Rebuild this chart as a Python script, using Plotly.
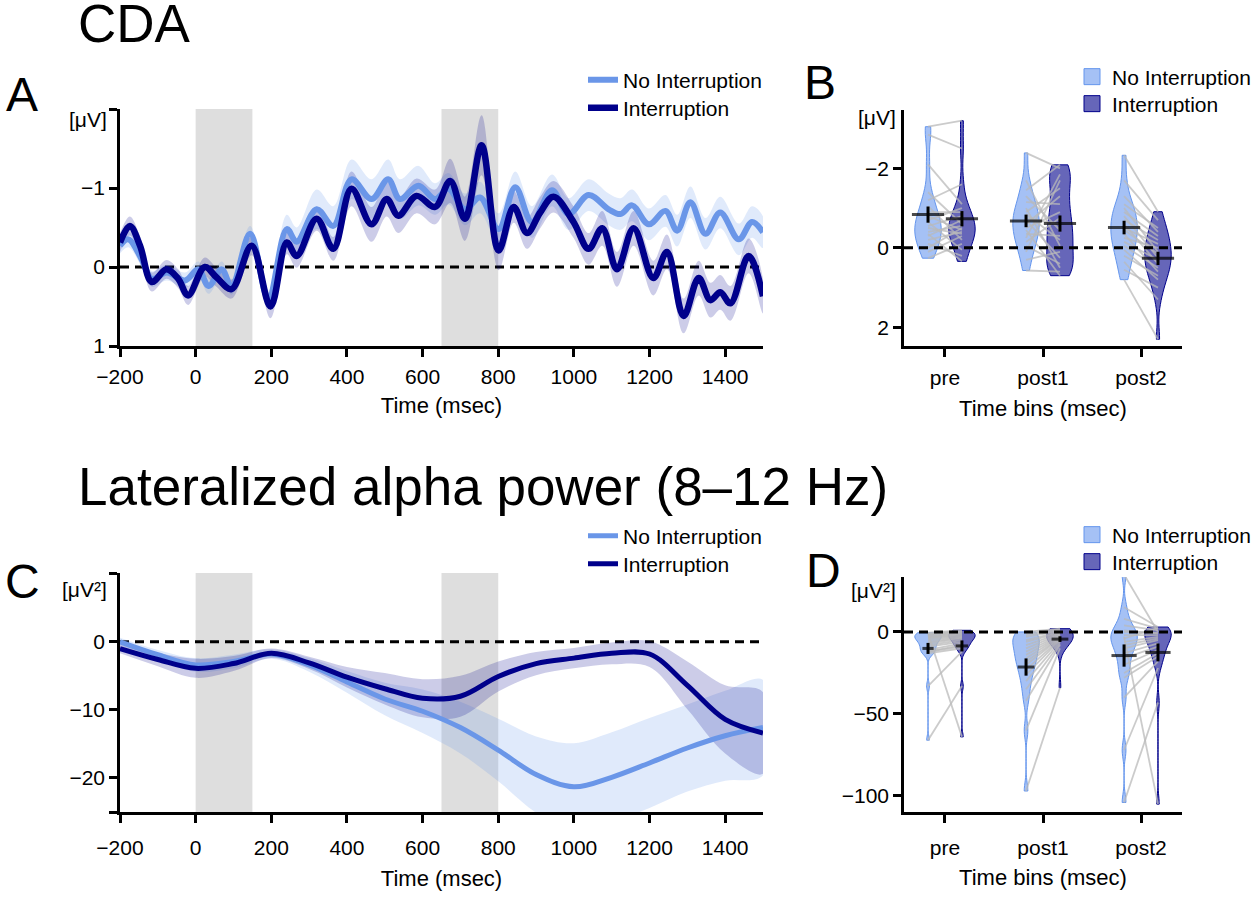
import numpy as np
import plotly.graph_objects as go

# ---------------- Panel A: CDA time course ----------------
cda_t_int = [-200, -174, -147, -116, -77, -46, -20, 24, 55, 95, 148, 198, 241, 267, 320, 364, 412, 465, 505, 536,
             584, 633, 673, 712, 756, 801, 841, 876, 911, 946, 999, 1039, 1075, 1114, 1158, 1210, 1246, 1290, 1330,
             1361, 1387, 1414, 1462, 1500]
cda_int = [-0.31, -0.52, -0.27, 0.19, 0.03, 0.15, 0.36, 0.0, 0.13, 0.28, -0.27, 0.50, -0.31, -0.14, -0.61, -0.23,
           -0.99, -0.54, -0.86, -0.65, -0.90, -0.76, -1.09, -0.61, -1.54, -0.21, -0.76, -0.43, -0.69, -0.89, -0.57,
           -0.23, -0.49, 0.03, -0.49, 0.14, -0.19, 0.62, 0.14, 0.42, 0.32, 0.46, -0.14, 0.37]
cda_int_se = [0.12] * 11 + [0.15] * 5 + [0.22] * 6 + [0.28] * 2 + [0.38] + [0.25] + [0.2] * 6 + [0.22] * 12

cda_t_ni = [-200, -178, -143, -116, -76, -28, 7, 34, 69, 95, 144, 192, 241, 267, 320, 364, 412, 465, 509, 540, 589,
            633, 668, 712, 752, 801, 845, 889, 942, 986, 1039, 1092, 1123, 1154, 1198, 1242, 1273, 1308, 1348, 1387,
            1436, 1471, 1500]
cda_ni = [-0.27, -0.35, -0.10, 0.15, 0.07, 0.17, 0.03, 0.24, 0.03, 0.25, -0.42, 0.40, -0.48, -0.32, -0.73, -0.52,
          -1.11, -0.86, -1.11, -0.86, -1.03, -0.86, -0.99, -0.73, -0.88, -0.48, -1.01, -0.57, -0.97, -0.67, -0.91,
          -0.73, -0.67, -0.78, -0.54, -0.71, -0.46, -0.82, -0.42, -0.69, -0.35, -0.57, -0.44]
cda_ni_se = [0.1] * 12 + [0.18] * 2 + [0.25] * 7 + [0.2] * 22

# ---------------- Panel C: alpha power time course ----------------
alpha_t = [-200, -100, 0, 100, 200, 300, 400, 500, 600, 700, 800, 900, 1000, 1100, 1200, 1300, 1400, 1500]
alpha_int = [-1.0, -2.6, -3.9, -3.2, -1.7, -3.1, -5.2, -6.9, -8.3, -8.0, -5.1, -3.2, -2.4, -1.7, -1.8, -6.4, -11.4, -13.4]
alpha_int_se = [0.7, 1.0, 1.4, 1.1, 0.7, 0.9, 1.5, 2.3, 2.8, 3.0, 2.2, 1.7, 1.5, 1.6, 1.9, 3.5, 5.0, 6.0]
alpha_ni = [0.0, -1.9, -3.4, -2.9, -1.8, -3.4, -5.9, -8.4, -10.2, -12.6, -15.9, -19.5, -21.3, -19.9, -17.8, -15.6, -13.8, -12.6]
alpha_ni_se = [0.6, 0.7, 1.0, 1.0, 0.7, 1.0, 1.6, 2.4, 3.2, 3.8, 4.6, 5.6, 6.4, 6.6, 6.6, 6.4, 6.6, 7.0]

shade_windows = [(0, 150), (650, 800)]

# ---------------- Panel B: CDA per subject, per time bin ----------------
bins = ["pre", "post1", "post2"]
cda_bin_ni = [
    [-3.05, -2.85, -2.1, -1.4, -1.2, -1.05, -0.9, -0.8, -0.7, -0.65, -0.55, -0.5, -0.4, -0.35, -0.3, -0.2, -0.1, 0.0, 0.1, 0.26],
    [-2.39, -1.7, -1.45, -1.3, -1.15, -1.0, -0.9, -0.85, -0.75, -0.7, -0.6, -0.5, -0.45, -0.35, -0.25, -0.15, -0.05, 0.1, 0.3, 0.57],
    [-2.33, -1.7, -1.3, -1.1, -1.0, -0.9, -0.8, -0.7, -0.6, -0.5, -0.45, -0.35, -0.25, -0.15, -0.05, 0.05, 0.2, 0.35, 0.55, 0.8],
]
cda_bin_int = [
    [-3.2, -2.5, -1.1, -0.6, -1.6, -0.2, -0.9, -0.45, -1.0, 0.05, -0.8, -0.35, -0.55, 0.34, -0.7, -0.4, 0.2, -0.5, -0.3, -0.1],
    [-2.0, -0.05, -2.09, -0.45, -1.1, 0.5, -1.5, -0.2, -0.6, 0.25, -1.3, -0.9, 0.7, -0.3, -1.85, -0.75, 0.4, -1.7, 0.1, 0.6],
    [-0.91, -0.7, -0.4, -0.5, 0.1, -0.3, 0.25, -0.2, 0.4, -0.1, 0.15, 0.6, 0.0, 0.3, 0.5, 0.8, 0.7, 1.3, 1.0, 2.3],
]

# ---------------- Panel D: alpha power per subject, per time bin ----------------
alpha_bin_ni = [
    [-0.5, -1, -1.5, -2, -2.5, -3, -3.5, -4, -5, -6, -7, -8, -9, -11, -12, -12, -13, -33, -66, -1],
    [0, -1, -2, -3, -5, -6, -8, -10, -12, -14, -16, -18, -20, -23, -26, -30, -35, -42, -60, -97],
    [35, 15, 8, 4, 1, 0, -2, -4, -6, -8, -10, -13, -16, -20, -25, -28, -40, -72, -104, -3],
]
alpha_bin_int = [
    [1, 0.5, 0, -0.5, -1, -1.5, -2, -2.5, -3, -3.5, -4, -5, -6, -7, -8, -9, -10, -12, -33, -64],
    [2, 1.5, 1, 0.5, 0, -0.5, -1, -1.5, -2, -2.5, -3, -3.5, -4, -4.5, -5, -6, -7, -8, -10, -34],
    [0, 3, 2, 1, -1, -0.5, -2, 2.5, -3, -4, -5, -7, -9, -11, -13, -15, -18, -22, -43, -105],
]

# ---------------- styles ----------------
FONT = "Liberation Sans, Arial, Helvetica, sans-serif"
NI_LINE = "#6A96E8"
INT_LINE = "#00008B"
NI_BAND = "rgba(100,149,237,0.20)"
INT_BAND = "rgba(0,0,139,0.20)"
NI_FILL = "rgba(100,149,237,0.58)"
INT_FILL = "rgba(0,0,139,0.60)"
W, H = 1255, 897
OFF = 0.173


def px_x(p):
    return p / W


def px_y(p):
    return 1 - p / H


fig = go.Figure()


def add_timecourse(t_ni, ni, ni_se, t_int, it, it_se, xa, ya, lw_ni, lw_int, legs):
    ni, ni_se, it, it_se = map(np.array, (ni, ni_se, it, it_se))
    for t, m, s, col in ((t_ni, ni, ni_se, NI_BAND), (t_int, it, it_se, INT_BAND)):
        fig.add_trace(go.Scatter(x=list(t) + list(t)[::-1], y=list(m + s) + list((m - s)[::-1]),
                                 fill="toself", fillcolor=col, line=dict(width=0, shape="spline"),
                                 mode="lines", hoverinfo="skip", showlegend=False, xaxis=xa, yaxis=ya))
    fig.add_trace(go.Scatter(x=t_ni, y=ni, mode="lines", name="No Interruption",
                             line=dict(color=NI_LINE, width=lw_ni, shape="spline"),
                             xaxis=xa, yaxis=ya, legend=legs[0], showlegend=True))
    fig.add_trace(go.Scatter(x=t_int, y=it, mode="lines", name="Interruption",
                             line=dict(color=INT_LINE, width=lw_int, shape="spline"),
                             xaxis=xa, yaxis=ya, legend=legs[1], showlegend=True))


add_timecourse(cda_t_ni, cda_ni, cda_ni_se, cda_t_int, cda_int, cda_int_se, "x", "y", 6, 6.5, ("legend", "legend2"))
add_timecourse(alpha_t, alpha_ni, alpha_ni_se, alpha_t, alpha_int, alpha_int_se, "x3", "y3", 5, 5,
               ("legend5", "legend6"))


def add_violins(ni_data, int_data, xa, ya, bws, cross_sizes, legs):
    for k in range(len(bins)):
        for off, d, fc, lc in ((-OFF, ni_data[k], NI_FILL, "#6495ED"), (OFF, int_data[k], INT_FILL, INT_LINE)):
            fig.add_trace(go.Violin(x=[k + off] * len(d), y=d, width=0.27, spanmode="hard", bandwidth=bws[k],
                                    points=False, fillcolor=fc, line=dict(color=lc, width=1), scalemode="width",
                                    showlegend=False, hoverinfo="skip", xaxis=xa, yaxis=ya))
    # paired subject lines
    lx, ly = [], []
    for k in range(len(bins)):
        for a, b in zip(ni_data[k], int_data[k]):
            lx += [k - OFF, k + OFF, None]
            ly += [a, b, None]
    fig.add_trace(go.Scatter(x=lx, y=ly, mode="lines", line=dict(color="rgba(185,185,185,0.75)", width=1.8),
                             hoverinfo="skip", showlegend=False, xaxis=xa, yaxis=ya))
    # mean +/- SE crosses
    cx, cy, ce = [], [], []
    for k in range(len(bins)):
        for off, d in ((-OFF, ni_data[k]), (OFF, int_data[k])):
            d = np.array(d, dtype=float)
            cx.append(k + off)
            cy.append(d.mean())
            ce.append(d.std(ddof=1) / np.sqrt(len(d)))
    fig.add_trace(go.Scatter(x=cx, y=cy, mode="markers",
                             marker=dict(symbol="line-ew", size=cross_sizes, color="black",
                                         line=dict(color="black", width=3)),
                             error_y=dict(type="data", array=ce, width=0, thickness=3, color="black"),
                             showlegend=False, hoverinfo="skip", xaxis=xa, yaxis=ya))
    # legend swatches
    fig.add_trace(go.Scatter(x=[None], y=[None], mode="markers", name="No Interruption",
                             marker=dict(symbol="square", size=20, color=NI_FILL, line=dict(color="#6495ED", width=1)),
                             xaxis=xa, yaxis=ya, legend=legs[0]))
    fig.add_trace(go.Scatter(x=[None], y=[None], mode="markers", name="Interruption",
                             marker=dict(symbol="square", size=20, color=INT_FILL, line=dict(color=INT_LINE, width=1)),
                             xaxis=xa, yaxis=ya, legend=legs[1]))


add_violins(cda_bin_ni, cda_bin_int, "x2", "y2", [0.3, 0.3, 0.3], [23] * 6, ("legend3", "legend4"))
add_violins(alpha_bin_ni, alpha_bin_int, "x4", "y4", [2.5, 5.0, 5.0], [8, 9, 12, 12, 18, 18], ("legend7", "legend8"))

# ---------------- shapes ----------------
shapes = []
for xr, yr in (("x", "y"), ("x3", "y3")):
    for a, b in shade_windows:
        shapes.append(dict(type="rect", xref=xr, yref=yr + " domain", x0=a, x1=b, y0=0, y1=1,
                           fillcolor="#DEDEDE", line=dict(width=0), layer="below"))
for xr, yr, layer in (("x", "y", "below"), ("x3", "y3", "below"), ("x2", "y2", "above"), ("x4", "y4", "above")):
    shapes.append(dict(type="line", xref=xr + " domain", yref=yr, x0=0, x1=1, y0=0, y1=0,
                       line=dict(color="black", width=3, dash="9px,6px"), layer=layer))

# ---------------- axes ----------------
axis_common = dict(showline=True, linecolor="black", linewidth=2.5, ticks="outside", ticklen=8, tickwidth=2.5,
                   tickcolor="black", showgrid=False, zeroline=False, tickfont=dict(size=21, color="black"),
                   fixedrange=True, automargin=False)
time_ticks = list(range(-200, 1401, 200))


def time_axis(lab_off, title_off):
    return dict(axis_common, range=[-200, 1500], tickvals=time_ticks, ticklabelstandoff=lab_off,
                title=dict(text="Time (msec)", font=dict(size=22), standoff=title_off))


def bins_axis(lab_off, title_off):
    return dict(axis_common, range=[-0.418, 2.418], tickvals=[0, 1, 2], ticktext=bins, ticklabelstandoff=lab_off,
                title=dict(text="Time bins (msec)", font=dict(size=22), standoff=title_off))


A_dom_x = [px_x(120), px_x(763)]
B_dom_x = [px_x(904), px_x(1182)]

legend_common = dict(xanchor="left", yanchor="middle", bgcolor="rgba(0,0,0,0)", font=dict(size=21),
                     itemwidth=30, borderwidth=0)
legend_pos = {
    "legend": (583, 80), "legend2": (583, 108),
    "legend3": (1072, 77), "legend4": (1072, 104),
    "legend5": (583, 536), "legend6": (583, 564),
    "legend7": (1072, 535), "legend8": (1072, 562),
}
legends = {k: dict(legend_common, x=px_x(v[0]), y=px_y(v[1])) for k, v in legend_pos.items()}

fig.update_layout(
    width=W, height=H, margin=dict(l=0, r=0, t=0, b=0, autoexpand=False),
    plot_bgcolor="white", paper_bgcolor="white",
    font=dict(family=FONT, size=21, color="black"),
    violinmode="overlay", violingap=0,
    xaxis=dict(time_axis(2, 11), domain=A_dom_x, anchor="y"),
    yaxis=dict(axis_common, domain=[px_y(346), px_y(109)], range=[1, -2], autorange=False,
               tickvals=[-2, -1, 0, 1], ticktext=["", "−1", "0", "1"], anchor="x"),
    xaxis2=dict(bins_axis(3, 13), domain=B_dom_x, anchor="y2"),
    yaxis2=dict(axis_common, domain=[px_y(346), px_y(110)], range=[2.47, -3.47], autorange=False,
                tickvals=[-2, 0, 2], ticktext=["−2", "0", "2"], anchor="x2"),
    xaxis3=dict(time_axis(7, 13), domain=A_dom_x, anchor="y3"),
    yaxis3=dict(axis_common, domain=[px_y(812), px_y(573)], range=[-25, 10.1], autorange=False,
                tickvals=[10, 0, -10, -20, -25], ticktext=["", "0", "−10", "−20", ""], anchor="x3"),
    xaxis4=dict(bins_axis(7, 12), domain=B_dom_x, anchor="y4"),
    yaxis4=dict(axis_common, domain=[px_y(812), px_y(577)], range=[-109.8, 33.5], autorange=False,
                tickvals=[0, -50, -100], ticktext=["0", "−50", "−100"], anchor="x4"),
    shapes=shapes,
    **legends,
)

annotations = [
    dict(text="CDA", x=px_x(76), y=px_y(23), size=53),
    dict(text="Lateralized alpha power (8–12 Hz)", x=px_x(76), y=px_y(486), size=53),
    dict(text="A", x=px_x(4), y=px_y(95), size=48),
    dict(text="B", x=px_x(802), y=px_y(83), size=48),
    dict(text="C", x=px_x(3), y=px_y(581), size=48),
    dict(text="D", x=px_x(804), y=px_y(570), size=48),
]
for a in annotations:
    fig.add_annotation(text=a["text"], x=a["x"], y=a["y"], xref="paper", yref="paper", xanchor="left",
                       yanchor="middle", showarrow=False, font=dict(size=a["size"], color="black"))
for txt, xr, yc in (("[μV]", 109, 119), ("[μV²]", 109, 589), ("[μV]", 898, 118), ("[μV²]", 898, 590)):
    fig.add_annotation(text=txt, x=px_x(xr), y=px_y(yc), xref="paper", yref="paper", xanchor="right",
                       yanchor="middle", showarrow=False, font=dict(size=21, color="black"))

fig.write_html("out.html", config={"displayModeBar": False},
               post_script="document.body.style.margin='0px';")
